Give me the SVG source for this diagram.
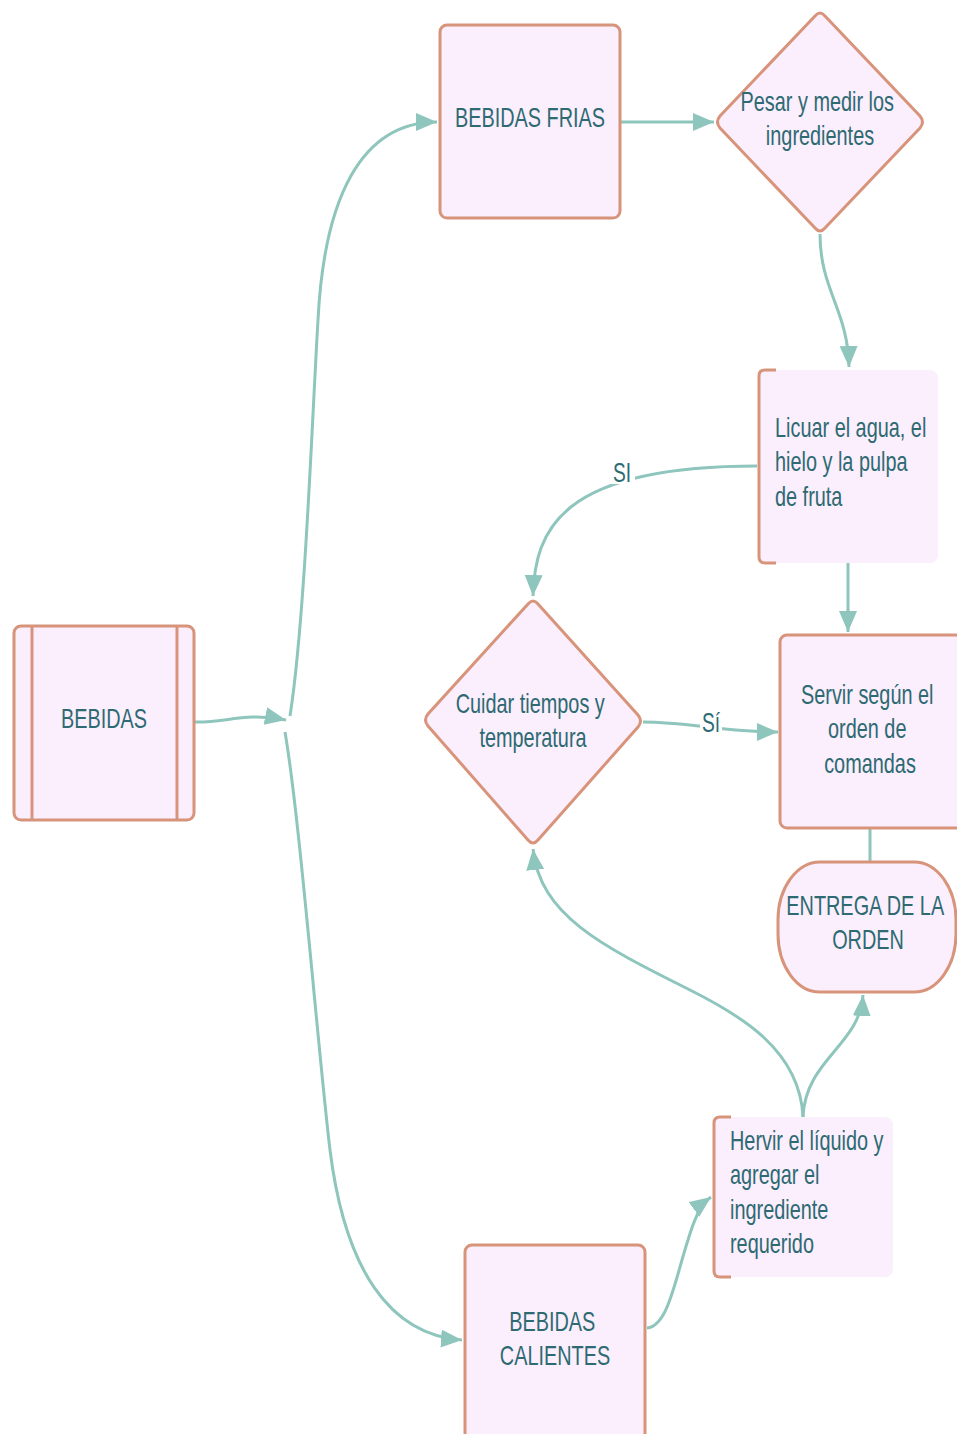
<svg xmlns="http://www.w3.org/2000/svg" width="957" height="1434" viewBox="0 0 957 1434">
  <style>
    .box { fill: #fbeefd; stroke: #d8947b; stroke-width: 3; }
    .fillonly { fill: #fbeefd; stroke: none; }
    .bracket { fill: none; stroke: #d8947b; stroke-width: 3; }
    .edge { fill: none; stroke: #8ec5bc; stroke-width: 3; }
    .lbl { font-family: "Liberation Sans", Arial, sans-serif; font-size: 28px; fill: #2d6a72; }
    .mid { text-anchor: middle; }
    .elbl { font-family: "Liberation Sans", Arial, sans-serif; font-size: 27px; fill: #2d6a72; text-anchor: middle; }
  </style>
  <defs>
    <marker id="arrow" markerUnits="userSpaceOnUse" markerWidth="24" markerHeight="20" refX="21" refY="9" orient="auto">
      <path d="M0,0 L21,9 L0,18 z" fill="#8ec5bc"/>
    </marker>
  </defs>
  <rect width="957" height="1434" fill="#ffffff"/>

  <!-- connectors -->
  <g id="connectors">
    <path class="edge" d="M195 722 C 225 723, 245 712, 286 720" marker-end="url(#arrow)"/>
    <path class="edge" d="M290 716 C 305 620, 312 420, 318 320 C 324 200, 360 122, 437 122" marker-end="url(#arrow)"/>
    <path class="edge" d="M285 732 C 300 820, 318 1050, 330 1150 C 345 1270, 390 1335, 462 1340" marker-end="url(#arrow)"/>
    <path class="edge" d="M621 122 L 714 122" marker-end="url(#arrow)"/>
    <path class="edge" d="M820 234 C 820 290, 848 310, 849 367" marker-end="url(#arrow)"/>
    <path class="edge" d="M757 466 C 560 466, 535 530, 533 596" marker-end="url(#arrow)"/>
    <path class="edge" d="M848 563 L 848 632" marker-end="url(#arrow)"/>
    <path class="edge" d="M643 722 C 690 722, 720 732, 778 732" marker-end="url(#arrow)"/>
    <path class="edge" d="M870 829 L 870 862"/>
    <path class="edge" d="M803 1117 C 800 1050, 740 1015, 690 990 C 600 945, 540 915, 533 849" marker-end="url(#arrow)"/>
    <path class="edge" d="M803 1117 C 805 1060, 860 1045, 863 995" marker-end="url(#arrow)"/>
    <path class="edge" d="M647 1328 C 668 1326, 675 1280, 688 1240 C 694 1220, 700 1205, 711 1197" marker-end="url(#arrow)"/>
    <!-- edge labels -->
    <rect x="609" y="459" width="26" height="25" fill="#ffffff"/>
    <text class="elbl" transform="translate(622,482) scale(0.71,1)">SI</text>
    <rect x="700" y="709" width="22" height="25" fill="#ffffff"/>
    <text class="elbl" transform="translate(711,732) scale(0.71,1)">Sí</text>
  </g>

  <g id="bebidas">
    <rect class="box" x="14" y="626" width="180" height="194" rx="7"/>
    <line class="bracket" x1="32" y1="626" x2="32" y2="820"/>
    <line class="bracket" x1="177" y1="626" x2="177" y2="820"/>
    <text class="lbl mid" transform="translate(104,728) scale(0.71,1)">BEBIDAS</text>
  </g>

  <g id="bebidas-frias">
    <rect class="box" x="440" y="25" width="180" height="193" rx="7"/>
    <text class="lbl mid" transform="translate(530,127) scale(0.71,1)">BEBIDAS FRIAS</text>
  </g>

  <g id="pesar">
    <path class="box" d="M815 16 Q 820 10 825 16 L 920 116 Q 925 122 920 128 L 825 228 Q 820 234 815 228 L 720 128 Q 715 122 720 116 Z"/>
    <text class="lbl mid" transform="translate(820,111) scale(0.71,1)">
      <tspan x="0" dy="0">Pesar y medir los</tspan>
      <tspan x="0" dy="34">ingredientes</tspan>
    </text>
  </g>

  <g id="licuar">
    <rect class="fillonly" x="758" y="370" width="180" height="193" rx="8"/>
    <path class="bracket" d="M776 370 L 765 370 Q 759 370 759 376 L 759 557 Q 759 563 765 563 L 776 563"/>
    <text class="lbl" transform="translate(775,437) scale(0.71,1)">
      <tspan x="0" dy="0">Licuar el agua, el</tspan>
      <tspan x="0" dy="34.5">hielo y la pulpa</tspan>
      <tspan x="0" dy="34.5">de fruta</tspan>
    </text>
  </g>

  <g id="cuidar">
    <path class="box" d="M528 604 Q 533 598 538 604 L 638 715 Q 643 721 638 727 L 538 840 Q 533 846 528 840 L 428 726 Q 423 720 428 714 Z"/>
    <text class="lbl mid" transform="translate(533,713) scale(0.71,1)">
      <tspan x="0" dy="0">Cuidar tiempos y</tspan>
      <tspan x="0" dy="34.5">temperatura</tspan>
    </text>
  </g>

  <g id="servir">
    <rect class="box" x="780" y="635" width="190" height="193" rx="7"/>
    <text class="lbl mid" transform="translate(870,704) scale(0.71,1)">
      <tspan x="0" dy="0">Servir según el</tspan>
      <tspan x="0" dy="34.5">orden de</tspan>
      <tspan x="0" dy="34.5">comandas</tspan>
    </text>
  </g>

  <g id="entrega">
    <rect class="box" x="778" y="862" width="178" height="130" rx="42" ry="58"/>
    <text class="lbl mid" transform="translate(868,915) scale(0.71,1)">
      <tspan x="0" dy="0">ENTREGA DE LA</tspan>
      <tspan x="0" dy="34.5">ORDEN</tspan>
    </text>
  </g>

  <g id="hervir">
    <rect class="fillonly" x="713" y="1117" width="180" height="160" rx="8"/>
    <path class="bracket" d="M731 1117 L 720 1117 Q 714 1117 714 1123 L 714 1271 Q 714 1277 720 1277 L 731 1277"/>
    <text class="lbl" transform="translate(730,1150) scale(0.71,1)">
      <tspan x="0" dy="0">Hervir el líquido y</tspan>
      <tspan x="0" dy="34.5">agregar el</tspan>
      <tspan x="0" dy="34.5">ingrediente</tspan>
      <tspan x="0" dy="34.5">requerido</tspan>
    </text>
  </g>

  <g id="bebidas-calientes">
    <rect class="box" x="465" y="1245" width="180" height="200" rx="7"/>
    <text class="lbl mid" transform="translate(555,1331) scale(0.71,1)">
      <tspan x="0" dy="0">BEBIDAS</tspan>
      <tspan x="0" dy="34">CALIENTES</tspan>
    </text>
  </g>
</svg>
